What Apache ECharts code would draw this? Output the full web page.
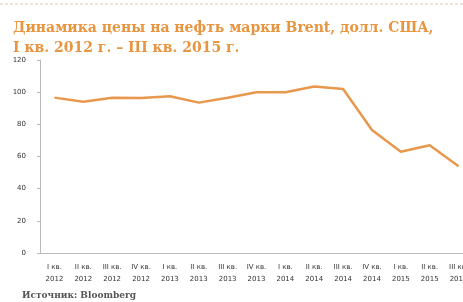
<!DOCTYPE html>
<html>
<head>
<meta charset="utf-8">
<script src="https://cdn.jsdelivr.net/npm/echarts@6/dist/echarts.min.js"></script>
<style>
  html, body { margin: 0; padding: 0; background: #fff; }
  #chart { width: 463px; height: 302px; }
</style>
</head>
<body>
<div id="chart"></div>
<script>
// кварталы и цены (долл. США)
const quarters = ['I кв.', 'II кв.', 'III кв.', 'IV кв.'];
const years = ['2012', '2013', '2014', '2015'];
const categories = [];
years.forEach(y => quarters.forEach(q => categories.push(q + '\n' + y)));
categories.length = 15; // до III кв. 2015

const prices = [96.6, 94, 96.5, 96.4, 97.5, 93.5, 96.5, 100, 100, 103.5, 102, 76.5, 63, 67, 54];
const yTicks = [0, 20, 40, 60, 80, 100, 120];

const myChart = echarts.init(document.getElementById('chart'));

let option = {
    animation: false,
    title: {
        text: 'Динамика цены на нефть марки Brent, долл. США,\nI кв. 2012 г. – III кв. 2015 г.',
        left: 8,
        top: 13,
        textStyle: {
            fontFamily: 'DejaVu Serif',
            fontWeight: 'bold',
            fontSize: 14,
            lineHeight: 20,
            color: '#e8953f'
        }
    },
    graphic: [
        {
            type: 'line',
            shape: { x1: 0, y1: 4, x2: 463, y2: 4 },
            style: { stroke: '#d8c8b8', lineWidth: 1, lineDash: [3, 2] }
        },
        {
            type: 'text',
            left: 22,
            top: 291,
            style: {
                text: 'Источник: Bloomberg',
                font: 'bold 9px "DejaVu Serif"',
                fill: '#555'
            }
        }
    ],
    grid: { left: 40, top: 60, width: 433, height: 193, outerBoundsMode: 'none' },
    xAxis: {
        type: 'category',
        data: categories,
        boundaryGap: true,
        axisLine: { lineStyle: { color: '#bbb' } },
        axisTick: { length: 3, lineStyle: { color: '#bbb' } },
        axisLabel: {
            interval: 0,
            fontSize: 7,
            lineHeight: 12,
            color: '#333',
            margin: 8,
            fontFamily: 'DejaVu Sans'
        }
    },
    yAxis: {
        type: 'value',
        min: yTicks[0],
        max: yTicks[yTicks.length - 1],
        interval: 20,
        axisLine: { show: true, lineStyle: { color: '#bbb' } },
        axisTick: { show: true, length: 3, lineStyle: { color: '#bbb' } },
        splitLine: { show: false },
        axisLabel: { fontSize: 7, color: '#333', margin: 14, fontFamily: 'DejaVu Sans' }
    },
    series: [{
        type: 'line',
        data: prices,
        symbol: 'none',
        lineStyle: { color: '#e8984c', width: 2.5 }
    }]
};

myChart.setOption(option);
</script>
</body>
</html>
